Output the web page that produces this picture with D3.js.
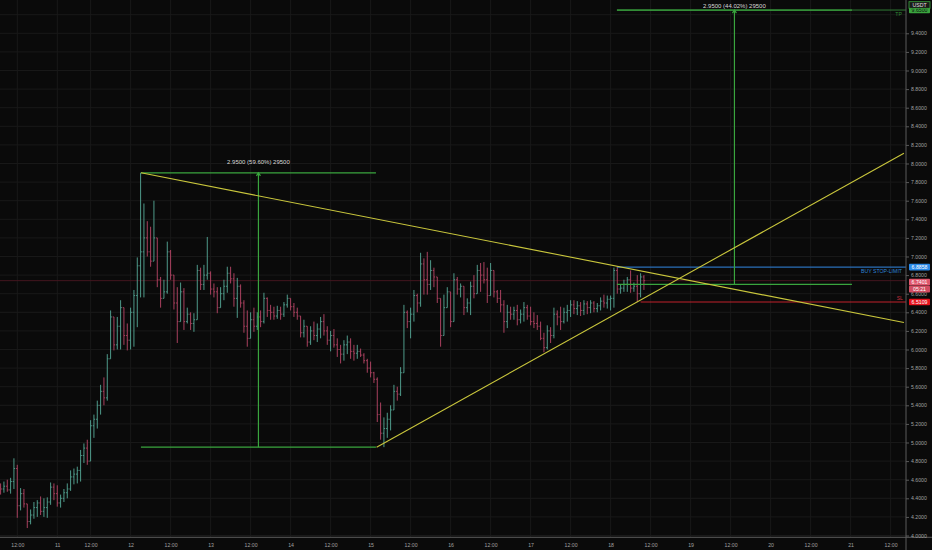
<!DOCTYPE html>
<html><head><meta charset="utf-8">
<script src="https://cdn.jsdelivr.net/npm/d3@7"></script>
<style>html,body{margin:0;padding:0;background:#0a0a0a;overflow:hidden}svg{display:block;font-family:"Liberation Sans",Arial,sans-serif}</style>
</head><body><svg id="c" width="932" height="550"></svg>
<script>
// ---- data (hourly bars, first bar 10th 07:00 UTC; two hourly bars missing on the 11th) ----
const firstBar = "2021-01-10T07:00:00Z";
const missingBars = ["2021-01-11T05:00:00Z","2021-01-11T06:00:00Z"];
const firstOpen = 4.52;
const lows = [4.44,4.46,4.47,4.45,4.50,4.19,4.27,4.30,4.08,4.12,4.18,4.20,4.22,4.20,4.19,4.33,4.38,4.31,4.30,4.36,
4.40,4.48,4.55,4.56,4.58,4.78,4.76,4.80,5.05,5.15,5.30,5.40,5.45,5.95,5.99,6.00,6.00,6.05,5.99,6.00,
6.03,6.24,6.56,6.56,7.00,6.89,6.98,6.67,6.45,6.55,6.60,6.75,6.43,6.07,6.30,6.21,6.28,6.21,6.19,6.32,
6.64,6.64,6.75,6.59,6.56,6.39,6.45,6.53,6.61,6.71,6.46,6.34,6.45,6.18,6.03,6.13,6.19,6.21,6.24,6.28,
6.35,6.32,6.32,6.33,6.32,6.35,6.45,6.42,6.35,6.32,6.13,6.13,6.03,6.05,6.10,6.08,6.12,6.15,6.05,5.98,
6.02,5.92,5.85,5.88,5.95,5.90,5.88,5.90,5.92,5.85,5.75,5.70,5.64,5.22,5.03,4.95,5.05,5.13,5.37,5.45,
5.50,5.75,6.23,6.12,6.30,6.40,6.46,6.59,6.59,6.64,6.67,6.50,6.03,6.15,6.46,6.24,6.30,6.59,6.56,6.37,
6.40,6.37,6.55,6.60,6.62,6.71,6.50,6.58,6.56,6.50,6.40,6.18,6.23,6.32,6.32,6.26,6.28,6.30,6.32,6.26,
6.23,6.21,6.10,5.97,6.00,6.07,6.12,6.26,6.21,6.28,6.30,6.35,6.38,6.37,6.36,6.37,6.38,6.39,6.40,6.40,
6.42,6.45,6.44,6.42,6.45,6.60,6.60,6.62,6.62,6.61,6.62,6.51,6.56,6.64];
const highs = [4.56,4.58,4.60,4.62,4.83,4.76,4.51,4.50,4.30,4.28,4.36,4.38,4.42,4.40,4.41,4.57,4.56,4.54,4.44,4.50,
4.56,4.70,4.72,4.74,4.92,4.99,5.03,5.24,5.30,5.45,5.62,5.70,5.95,6.42,6.30,6.35,6.53,6.37,6.28,6.45,
6.64,6.99,7.90,7.57,7.38,7.32,7.60,7.16,6.78,6.75,7.16,7.07,6.78,6.67,6.72,6.66,6.45,6.40,6.39,6.91,
6.88,6.91,7.21,6.84,6.71,6.67,6.67,6.75,6.89,6.89,6.82,6.77,6.70,6.53,6.42,6.40,6.45,6.40,6.42,6.61,
6.56,6.48,6.46,6.47,6.46,6.51,6.59,6.52,6.50,6.45,6.35,6.32,6.20,6.25,6.30,6.28,6.35,6.38,6.25,6.20,
6.22,6.12,6.05,6.10,6.15,6.12,6.05,6.05,6.01,5.96,5.90,5.87,5.76,5.70,5.43,5.27,5.32,5.40,5.62,5.60,
5.81,6.48,6.42,6.45,6.64,6.60,7.04,6.98,7.05,6.96,6.88,6.76,6.45,6.59,6.67,6.55,6.82,6.78,6.71,6.65,
6.55,6.73,6.80,6.91,6.93,6.94,6.88,6.93,6.85,6.64,6.64,6.53,6.48,6.46,6.46,6.48,6.43,6.51,6.48,6.46,
6.40,6.37,6.30,6.18,6.26,6.24,6.45,6.42,6.46,6.45,6.48,6.53,6.53,6.52,6.51,6.53,6.52,6.53,6.52,6.50,
6.56,6.59,6.58,6.58,6.88,6.89,6.70,6.75,6.78,6.85,6.72,6.80,6.82,6.80];
const closes = [4.50,4.53,4.49,4.58,4.72,4.32,4.45,4.34,4.15,4.22,4.30,4.35,4.26,4.30,4.36,4.52,4.45,4.35,4.40,4.46,
4.50,4.63,4.66,4.70,4.86,4.94,4.80,5.18,5.25,5.40,5.55,5.48,5.90,6.35,6.05,6.25,6.45,6.15,6.10,6.40,
6.58,6.90,7.05,7.20,7.05,6.95,7.20,6.75,6.55,6.62,7.05,6.80,6.50,6.30,6.62,6.30,6.38,6.28,6.32,6.85,
6.70,6.80,6.82,6.65,6.62,6.45,6.60,6.68,6.82,6.76,6.55,6.68,6.50,6.25,6.12,6.32,6.25,6.35,6.30,6.55,
6.42,6.40,6.36,6.42,6.38,6.48,6.55,6.46,6.40,6.36,6.18,6.25,6.08,6.20,6.15,6.22,6.30,6.20,6.10,6.15,
6.05,6.00,5.95,6.05,6.08,5.98,5.96,5.98,5.94,5.88,5.80,5.75,5.68,5.30,5.10,5.15,5.25,5.35,5.55,5.52,
5.75,6.40,6.30,6.38,6.58,6.50,6.92,6.75,6.70,6.85,6.78,6.55,6.15,6.45,6.62,6.30,6.75,6.65,6.68,6.45,
6.50,6.68,6.60,6.85,6.80,6.75,6.58,6.85,6.62,6.55,6.48,6.30,6.40,6.38,6.42,6.32,6.38,6.45,6.36,6.30,
6.28,6.25,6.12,6.02,6.20,6.15,6.38,6.35,6.30,6.40,6.42,6.48,6.44,6.47,6.42,6.49,6.45,6.50,6.44,6.47,
6.52,6.50,6.54,6.55,6.85,6.65,6.66,6.70,6.75,6.66,6.68,6.60,6.78,6.74];

const priceTicks = [4.0,4.2,4.4,4.6,4.8,5.0,5.2,5.4,5.6,5.8,6.0,6.2,6.4,6.6,6.8,7.0,7.2,7.4,7.6,7.8,8.0,8.2,8.4,8.6,8.8,9.0,9.2,9.4];
const timeTickRange = ["2021-01-10T12:00:00Z","2021-01-21T13:00:00Z"];
const indexDomain = [-0.18, 271.62];   // visible bar-index window
const priceDomain = [3.98065, 9.758];

// drawings
const measure1Times = ["2021-01-12T03:06:00Z","2021-01-15T01:36:00Z"];
const measure1Prices = [4.95, 7.90];
const measure1Label = "2.9500 (59.60%) 29500";
const measure2Times = ["2021-01-18T01:54:00Z","2021-01-21T00:24:00Z"];
const measure2Prices = [6.70, 9.65];
const measure2Label = "2.9500 (44.02%) 29500";
const trendDownTimes = ["2021-01-12T03:06:00Z","2021-01-21T16:00:00Z"];
const trendDownPrices = [7.90, 6.29];
const trendUpTimes = ["2021-01-15T01:48:00Z","2021-01-21T16:00:00Z"];
const trendUpPrices = [4.95, 8.11];
const orderStart = "2021-01-18T01:54:00Z";
const slStart = "2021-01-18T09:00:00Z";
const buyPrice = 6.8858, slPrice = 6.5109, tpPrice = 9.65, lastPrice = 6.7401;
const countdown = "05:21";

// ---- drawing ----
const W = 932, H = 550, PW = 906, PH = 537.3;
const HOUR = 3600e3;
const svg = d3.select("#c");
// bar-index scale (the time axis is index based, like the platform's)
const xi = d3.scaleLinear().domain(indexDomain).range([0, PW]);
const T = s => new Date(s);
const tFirst = T(firstBar), tGapA = new Date(T(missingBars[0]) - HOUR), tGapB = new Date(+T(missingBars[1]) + HOUR);
const idxGapA = (tGapA - tFirst)/HOUR, idxGapB = idxGapA + 1;
const tFar = T("2021-01-22T00:00:00Z");
const x = d3.scaleUtc()
  .domain([tFirst, tGapA, tGapB, tFar])
  .range([xi(0), xi(idxGapA), xi(idxGapB), xi(idxGapB + (tFar - tGapB)/HOUR)]);
const y = d3.scaleLinear().domain(priceDomain).range([PH, 0]);

const bars = closes.map((c,i)=>({
  i, o: i===0 ? firstOpen : closes[i-1], h: highs[i], l: lows[i], c
}));

svg.append("rect").attr("width",W).attr("height",H).attr("fill","#0a0a0a");
svg.append("defs").append("clipPath").attr("id","pc").append("rect").attr("width",PW).attr("height",PH);
const plot = svg.append("g").attr("clip-path","url(#pc)");

// grid
const xTicks = d3.utcHour.every(12).range(T(timeTickRange[0]), T(timeTickRange[1]));
plot.append("g").selectAll("line").data(xTicks).join("line")
  .attr("x1",d=>x(d)).attr("x2",d=>x(d)).attr("y1",0).attr("y2",PH)
  .attr("stroke","#191919").attr("stroke-width",1);
plot.append("g").selectAll("line").data(priceTicks.concat([9.6])).join("line")
  .attr("x1",0).attr("x2",PW).attr("y1",d=>y(d)).attr("y2",d=>y(d))
  .attr("stroke","#191919").attr("stroke-width",1);

// last price line
plot.append("line").attr("x1",0).attr("x2",PW).attr("y1",y(lastPrice)).attr("y2",y(lastPrice))
  .attr("stroke","#44161f").attr("stroke-width",1);

// bars (OHLC)
const up = "#4f9a8a", dn = "#a8405e";
const bg = plot.append("g");
bars.forEach(b=>{
  const cx = xi(b.i), col = b.c >= b.o ? up : dn;
  const hi = Math.max(b.h,b.o,b.c), lo = Math.min(b.l,b.o,b.c);
  bg.append("line").attr("x1",cx).attr("x2",cx).attr("y1",y(hi)).attr("y2",y(lo)).attr("stroke",col).attr("stroke-width",1);
  bg.append("line").attr("x1",cx-1.2).attr("x2",cx).attr("y1",y(b.o)).attr("y2",y(b.o)).attr("stroke",col).attr("stroke-width",1);
  bg.append("line").attr("x1",cx).attr("x2",cx+1.2).attr("y1",y(b.c)).attr("y2",y(b.c)).attr("stroke",col).attr("stroke-width",1);
});

// order lines
const xs = x(T(orderStart));
plot.append("line").attr("x1",xs).attr("x2",PW).attr("y1",y(tpPrice)).attr("y2",y(tpPrice)).attr("stroke","#2f7a35").attr("stroke-width",1);
plot.append("line").attr("x1",xs).attr("x2",PW).attr("y1",y(buyPrice)).attr("y2",y(buyPrice)).attr("stroke","#2a6fb8").attr("stroke-width",1.3);
plot.append("line").attr("x1",x(T(slStart))).attr("x2",PW).attr("y1",y(slPrice)).attr("y2",y(slPrice)).attr("stroke","#c0202a").attr("stroke-width",1.2);

// measurement tools
function measure(times, prices, label){
  const xa = x(T(times[0])), xb = x(T(times[1])), xm = (xa+xb)/2;
  const yl = y(prices[0]), yh = y(prices[1]);
  const g = plot.append("g").attr("stroke","#3aa53e").attr("stroke-width",1.2).attr("fill","none");
  g.append("line").attr("x1",xa).attr("x2",xb).attr("y1",yl).attr("y2",yl);
  g.append("line").attr("x1",xa).attr("x2",xb).attr("y1",yh).attr("y2",yh);
  g.append("line").attr("x1",xm).attr("x2",xm).attr("y1",yl).attr("y2",yh);
  g.append("path").attr("d",`M${xm-2},${yh+3}L${xm},${yh}L${xm+2},${yh+3}`);
  plot.append("text").attr("x",xm).attr("y",Math.max(yh-10.5, 5.8)).attr("text-anchor","middle")
    .attr("dominant-baseline","central").attr("fill","#d8d8d8").attr("font-size",6).text(label);
}
measure(measure1Times, measure1Prices, measure1Label);
measure(measure2Times, measure2Prices, measure2Label);

// trend lines
const tl = d3.line().x(d=>x(T(d[0]))).y(d=>y(d[1]));
plot.append("path").attr("d",tl(d3.zip(trendDownTimes,trendDownPrices))).attr("stroke","#c9c63c").attr("stroke-width",1.1).attr("fill","none");
plot.append("path").attr("d",tl(d3.zip(trendUpTimes,trendUpPrices))).attr("stroke","#c9c63c").attr("stroke-width",1.1).attr("fill","none");

// order labels
plot.append("text").attr("x",PW-4).attr("y",y(buyPrice)+4).attr("text-anchor","end").attr("dominant-baseline","central")
  .attr("fill","#2f86d8").attr("font-size",5.2).text("BUY STOP-LIMIT");
plot.append("text").attr("x",PW-3).attr("y",y(slPrice)-4).attr("text-anchor","end").attr("dominant-baseline","central")
  .attr("fill","#c83040").attr("font-size",5.2).text("SL");
plot.append("text").attr("x",PW-4).attr("y",y(tpPrice)+4).attr("text-anchor","end").attr("dominant-baseline","central")
  .attr("fill","#2f8a35").attr("font-size",5.2).text("TP");

// axes
const fmtX = d => d.getUTCHours()===0 ? String(d.getUTCDate()) : "12:00";
const xAxis = d3.axisBottom(x).tickValues(xTicks).tickFormat(fmtX).tickSize(0).tickPadding(6);
const gx = svg.append("g").attr("transform",`translate(0,${PH})`).call(xAxis);
gx.select(".domain").attr("stroke","#5a5a5a").attr("d",`M0,0H${W}`);
gx.selectAll("text").attr("fill","#a0a0a0").attr("font-size",5.2).attr("font-family","Liberation Sans, Arial, sans-serif");

const yAxis = d3.axisRight(y).tickValues(priceTicks).tickFormat(d3.format(".4f")).tickSize(3).tickPadding(2);
const gy = svg.append("g").attr("transform",`translate(${PW},0)`).call(yAxis);
gy.select(".domain").attr("stroke","#5a5a5a").attr("d",`M0,0V${H}`);
gy.selectAll(".tick line").attr("stroke","#5a5a5a");
gy.selectAll("text").attr("fill","#a0a0a0").attr("font-size",5.2).attr("font-family","Liberation Sans, Arial, sans-serif");

// axis price boxes
function box(yc, txt, fill, color){
  const g = svg.append("g");
  g.append("rect").attr("x",PW+3).attr("y",yc-3.3).attr("width",21).attr("height",6.6).attr("fill",fill).attr("rx",0.8);
  g.append("text").attr("x",PW+13.5).attr("y",yc).attr("text-anchor","middle").attr("dominant-baseline","central")
    .attr("fill",color).attr("font-size",5.2).text(txt);
}
box(y(tpPrice), d3.format(".4f")(tpPrice), "#3aa53e", "#0b0b0b");
box(5, "USDT", "#1a1a1a", "#e0e0e0");
svg.append("rect").attr("x",PW+3).attr("y",1.7).attr("width",21).attr("height",6.6).attr("fill","none").attr("stroke","#3aa53e").attr("stroke-width",0.8);
box(y(buyPrice), d3.format(".4f")(buyPrice), "#2a8ae8", "#ffffff");
box(y(lastPrice)+1.5, d3.format(".4f")(lastPrice), "#e0566c", "#ffffff");
box(y(lastPrice)+8.5, countdown, "#d24d62", "#ffffff");
box(y(slPrice), d3.format(".4f")(slPrice), "#e8141e", "#ffffff");
</script></body></html>
